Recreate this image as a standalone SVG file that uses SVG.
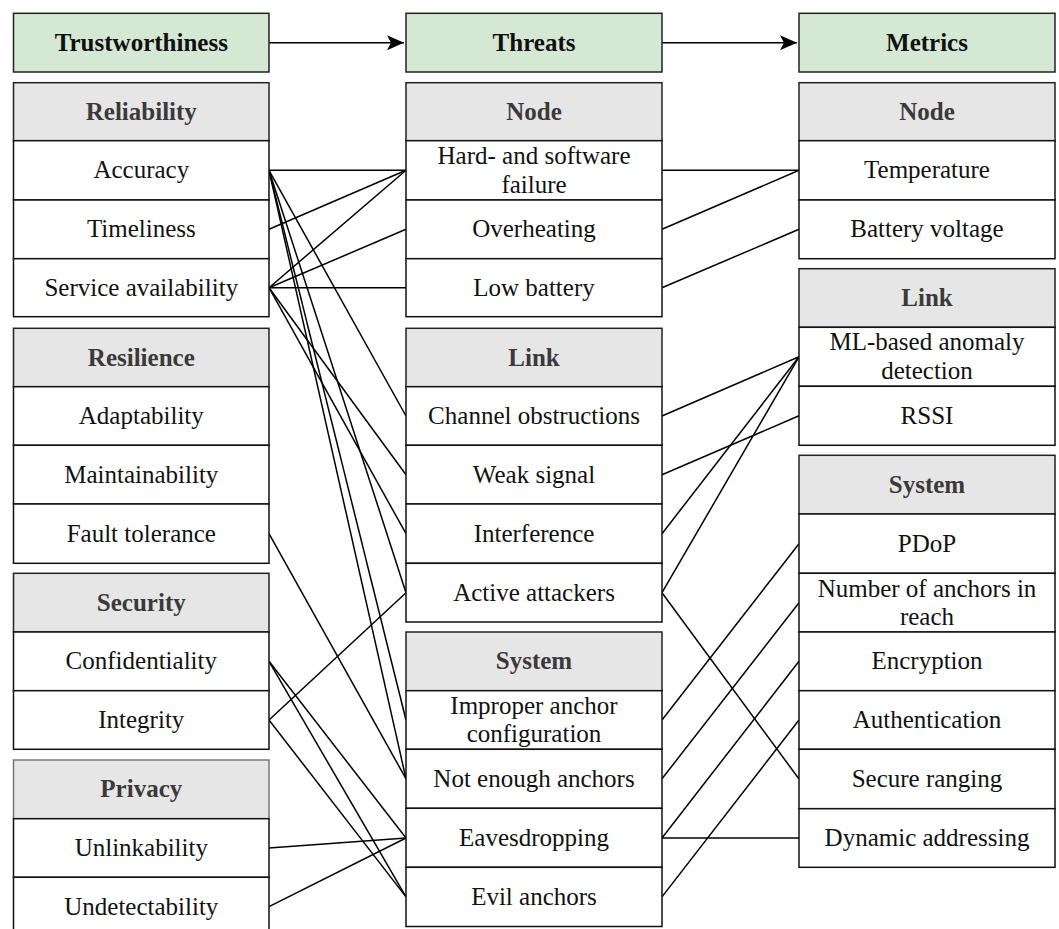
<svg xmlns="http://www.w3.org/2000/svg" width="1059" height="929" viewBox="0 0 1059 929">
<style>
.hg{fill:#d5e8d4;stroke:#222;stroke-width:1.5}
.hc{fill:#e6e6e6;stroke:#222;stroke-width:1.5}
.hp{fill:#e6e6e6;stroke:#777;stroke-width:1.5}
.it{fill:#fff;stroke:#111;stroke-width:1.5}
text{font-family:"Liberation Serif","Times New Roman",serif;font-size:25px;text-anchor:middle;fill:#111}
text.b{font-weight:bold;fill:#111}
text.g{font-weight:bold;fill:#3a3a3a}
#connectors line{stroke:#000;stroke-width:1.5;fill:none}
</style>
<defs>
<marker id="arr" markerUnits="userSpaceOnUse" markerWidth="18" markerHeight="16" refX="17" refY="7.5" orient="auto">
<path d="M0,0 L17,7.5 L0,15 L4,7.5 Z" fill="#000"/>
</marker>
</defs>
<g id="connectors">
<line x1="269" y1="42.7" x2="404" y2="42.7" marker-end="url(#arr)"/>
<line x1="662" y1="42.7" x2="797" y2="42.7" marker-end="url(#arr)"/>
<line x1="269" y1="170.3" x2="406" y2="170.3"/>
<line x1="269" y1="170.3" x2="406" y2="416"/>
<line x1="269" y1="170.3" x2="406" y2="592.7"/>
<line x1="269" y1="170.3" x2="406" y2="720"/>
<line x1="269" y1="170.3" x2="406" y2="778.8"/>
<line x1="269" y1="229.3" x2="406" y2="170.3"/>
<line x1="269" y1="287.7" x2="406" y2="170.3"/>
<line x1="269" y1="287.7" x2="406" y2="229.3"/>
<line x1="269" y1="287.7" x2="406" y2="287.7"/>
<line x1="269" y1="287.7" x2="406" y2="474.7"/>
<line x1="269" y1="287.7" x2="406" y2="533.7"/>
<line x1="269" y1="533.7" x2="406" y2="778.8"/>
<line x1="269" y1="720" x2="406" y2="592.7"/>
<line x1="269" y1="661.3" x2="406" y2="838"/>
<line x1="269" y1="661.3" x2="406" y2="896.9"/>
<line x1="269" y1="720" x2="406" y2="896.9"/>
<line x1="269" y1="848" x2="406" y2="838"/>
<line x1="269" y1="906.7" x2="406" y2="838"/>
<line x1="662" y1="170.3" x2="799" y2="170.3"/>
<line x1="662" y1="229.3" x2="799" y2="170.3"/>
<line x1="662" y1="287.7" x2="799" y2="229.3"/>
<line x1="662" y1="416" x2="799" y2="356.8"/>
<line x1="662" y1="474.7" x2="799" y2="415.8"/>
<line x1="662" y1="533.7" x2="799" y2="356.8"/>
<line x1="662" y1="592.7" x2="799" y2="356.8"/>
<line x1="662" y1="592.7" x2="799" y2="779"/>
<line x1="662" y1="720" x2="799" y2="543.7"/>
<line x1="662" y1="778.8" x2="799" y2="602.7"/>
<line x1="662" y1="838" x2="799" y2="661.3"/>
<line x1="662" y1="838" x2="799" y2="838"/>
<line x1="662" y1="896.9" x2="799" y2="720"/>
</g>
<!-- Column 1 -->
<g id="trustworthiness"><rect class="hg" x="13.5" y="13.3" width="255.5" height="58.7"/><text class="b" x="141.3" y="50.7">Trustworthiness</text></g>
<g id="reliability"><rect class="hc" x="13.5" y="82.7" width="255.5" height="58"/><text class="g" x="141.3" y="119.7">Reliability</text></g>
<g id="accuracy"><rect class="it" x="13.5" y="140.7" width="255.5" height="59.3"/><text x="141.3" y="178.3">Accuracy</text></g>
<g id="timeliness"><rect class="it" x="13.5" y="200" width="255.5" height="58.7"/><text x="141.3" y="237.3">Timeliness</text></g>
<g id="service-availability"><rect class="it" x="13.5" y="258.7" width="255.5" height="58"/><text x="141.3" y="295.7">Service availability</text></g>
<g id="resilience"><rect class="hc" x="13.5" y="328.3" width="255.5" height="58.4"/><text class="g" x="141.3" y="365.5">Resilience</text></g>
<g id="adaptability"><rect class="it" x="13.5" y="386.7" width="255.5" height="58.6"/><text x="141.3" y="424">Adaptability</text></g>
<g id="maintainability"><rect class="it" x="13.5" y="445.3" width="255.5" height="58.7"/><text x="141.3" y="482.7">Maintainability</text></g>
<g id="fault-tolerance"><rect class="it" x="13.5" y="504" width="255.5" height="59.3"/><text x="141.3" y="541.7">Fault tolerance</text></g>
<g id="security"><rect class="hc" x="13.5" y="573.3" width="255.5" height="58.7"/><text class="g" x="141.3" y="610.7">Security</text></g>
<g id="confidentiality"><rect class="it" x="13.5" y="632" width="255.5" height="58.7"/><text x="141.3" y="669.3">Confidentiality</text></g>
<g id="integrity"><rect class="it" x="13.5" y="690.7" width="255.5" height="58.6"/><text x="141.3" y="728">Integrity</text></g>
<g id="privacy"><rect class="hp" x="13.5" y="760" width="255.5" height="58.7"/><text class="g" x="141.3" y="797.3">Privacy</text></g>
<g id="unlinkability"><rect class="it" x="13.5" y="818.7" width="255.5" height="58.6"/><text x="141.3" y="856">Unlinkability</text></g>
<g id="undetectability"><rect class="it" x="13.5" y="877.3" width="255.5" height="58.7"/><text x="141.3" y="914.7">Undetectability</text></g>
<!-- Column 2 -->
<g id="threats"><rect class="hg" x="406" y="13.3" width="256" height="58.7"/><text class="b" x="534" y="50.7">Threats</text></g>
<g id="threat-node"><rect class="hc" x="406" y="82.7" width="256" height="58"/><text class="g" x="534" y="119.7">Node</text></g>
<g id="hw-sw-failure"><rect class="it" x="406" y="140.7" width="256" height="59.3"/><text x="534" y="164">Hard- and software</text><text x="534" y="192.7">failure</text></g>
<g id="overheating"><rect class="it" x="406" y="200" width="256" height="58.7"/><text x="534" y="237.3">Overheating</text></g>
<g id="low-battery"><rect class="it" x="406" y="258.7" width="256" height="58"/><text x="534" y="295.7">Low battery</text></g>
<g id="threat-link"><rect class="hc" x="406" y="328.3" width="256" height="58.4"/><text class="g" x="534" y="365.5">Link</text></g>
<g id="channel-obstructions"><rect class="it" x="406" y="386.7" width="256" height="58.6"/><text x="534" y="424">Channel obstructions</text></g>
<g id="weak-signal"><rect class="it" x="406" y="445.3" width="256" height="58.7"/><text x="534" y="482.7">Weak signal</text></g>
<g id="interference"><rect class="it" x="406" y="504" width="256" height="59.3"/><text x="534" y="541.7">Interference</text></g>
<g id="active-attackers"><rect class="it" x="406" y="563.3" width="256" height="58.7"/><text x="534" y="600.7">Active attackers</text></g>
<g id="threat-system"><rect class="hc" x="406" y="632" width="256" height="58.7"/><text class="g" x="534" y="669.3">System</text></g>
<g id="improper-anchor-config"><rect class="it" x="406" y="690.7" width="256" height="58.6"/><text x="534" y="713.5">Improper anchor</text><text x="534" y="741.5">configuration</text></g>
<g id="not-enough-anchors"><rect class="it" x="406" y="749.3" width="256" height="59"/><text x="534" y="786.8">Not enough anchors</text></g>
<g id="eavesdropping"><rect class="it" x="406" y="808.3" width="256" height="59"/><text x="534" y="845.8">Eavesdropping</text></g>
<g id="evil-anchors"><rect class="it" x="406" y="867.3" width="256" height="59.2"/><text x="534" y="904.9">Evil anchors</text></g>
<!-- Column 3 -->
<g id="metrics"><rect class="hg" x="799" y="13.3" width="256" height="58.7"/><text class="b" x="927" y="50.7">Metrics</text></g>
<g id="metric-node"><rect class="hc" x="799" y="82.7" width="256" height="58"/><text class="g" x="927" y="119.7">Node</text></g>
<g id="temperature"><rect class="it" x="799" y="140.7" width="256" height="59.3"/><text x="927" y="178.3">Temperature</text></g>
<g id="battery-voltage"><rect class="it" x="799" y="200" width="256" height="58.7"/><text x="927" y="237.3">Battery voltage</text></g>
<g id="metric-link"><rect class="hc" x="799" y="268.7" width="256" height="58.6"/><text class="g" x="927" y="306">Link</text></g>
<g id="ml-anomaly-detection"><rect class="it" x="799" y="327.3" width="256" height="59"/><text x="927" y="350">ML-based anomaly</text><text x="927" y="379.3">detection</text></g>
<g id="rssi"><rect class="it" x="799" y="386.3" width="256" height="59"/><text x="927" y="423.8">RSSI</text></g>
<g id="metric-system"><rect class="hc" x="799" y="455.3" width="256" height="58.7"/><text class="g" x="927" y="492.7">System</text></g>
<g id="pdop"><rect class="it" x="799" y="514" width="256" height="59.3"/><text x="927" y="551.7">PDoP</text></g>
<g id="number-of-anchors"><rect class="it" x="799" y="573.3" width="256" height="58.7"/><text x="927" y="596.7">Number of anchors in</text><text x="927" y="624.5">reach</text></g>
<g id="encryption"><rect class="it" x="799" y="632" width="256" height="58.7"/><text x="927" y="669.3">Encryption</text></g>
<g id="authentication"><rect class="it" x="799" y="690.7" width="256" height="58.6"/><text x="927" y="728">Authentication</text></g>
<g id="secure-ranging"><rect class="it" x="799" y="749.3" width="256" height="59.4"/><text x="927" y="787">Secure ranging</text></g>
<g id="dynamic-addressing"><rect class="it" x="799" y="808.7" width="256" height="58.6"/><text x="927" y="846">Dynamic addressing</text></g>
</svg>
